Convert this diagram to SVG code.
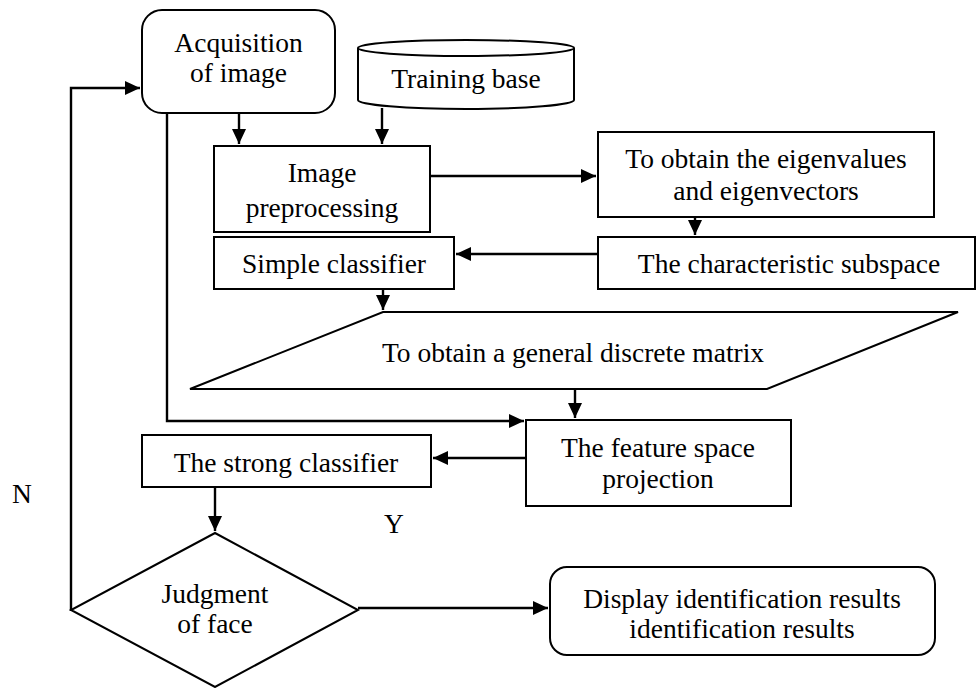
<svg xmlns="http://www.w3.org/2000/svg" width="976" height="688" viewBox="0 0 976 688" font-family="'Liberation Serif', 'Times New Roman', 'DejaVu Serif', serif">
<style>
text{font-family:"Liberation Serif","Times New Roman","DejaVu Serif",serif;font-size:27.5px;fill:#000;text-anchor:middle}
.s{fill:#fff;stroke:#000;stroke-width:2}
.c{fill:none;stroke:#000;stroke-width:2.4}
</style>
<defs>
<marker id="ah" markerUnits="userSpaceOnUse" markerWidth="17" markerHeight="16" refX="15" refY="7" orient="auto">
<path d="M0,0 L15,7 L0,14 z" fill="#000"/>
</marker>
</defs>
<rect width="976" height="688" fill="#fff"/>
<g id="connectors">
<path class="c" d="M71,611 V88 H140" marker-end="url(#ah)"/>
<path class="c" d="M239,113 V144" marker-end="url(#ah)"/>
<path class="c" d="M382,108 V144" marker-end="url(#ah)"/>
<path class="c" d="M430,176 H596" marker-end="url(#ah)"/>
<path class="c" d="M695,217 V235" marker-end="url(#ah)"/>
<path class="c" d="M598,254 H456" marker-end="url(#ah)"/>
<path class="c" d="M383,289 V310" marker-end="url(#ah)"/>
<path class="c" d="M575,389 V418" marker-end="url(#ah)"/>
<path class="c" d="M167,113 V421 H524" marker-end="url(#ah)"/>
<path class="c" d="M526,458 H433" marker-end="url(#ah)"/>
<path class="c" d="M215,487 V531" marker-end="url(#ah)"/>
<path class="c" d="M358,608 H548" marker-end="url(#ah)"/>
</g>
<g id="acquisition">
<rect class="s" x="142" y="10" width="193" height="103" rx="20"/>
<text x="238.5" y="52">Acquisition</text>
<text x="238.5" y="82">of image</text>
</g>
<g id="training">
<path class="s" d="M358,48 V100 A108,9 0 0 0 574,100 V48"/>
<ellipse class="s" cx="466" cy="48" rx="108" ry="8"/>
<text x="466" y="88">Training base</text>
</g>
<g id="preprocessing">
<rect class="s" x="214" y="146" width="216" height="86"/>
<text x="322" y="182">Image</text>
<text x="322" y="217">preprocessing</text>
</g>
<g id="eigen">
<rect class="s" x="598" y="132" width="336" height="85"/>
<text x="766" y="168">To obtain the eigenvalues</text>
<text x="766" y="200">and eigenvectors</text>
</g>
<g id="subspace">
<rect class="s" x="598" y="237" width="377" height="52"/>
<text x="789" y="273">The characteristic subspace</text>
</g>
<g id="simple">
<rect class="s" x="214" y="237" width="240" height="52"/>
<text x="334" y="273">Simple classifier</text>
</g>
<g id="matrix">
<path class="s" d="M383,312 H958 L767,389 H190 Z"/>
<text x="573" y="362">To obtain a general discrete matrix</text>
</g>
<g id="projection">
<rect class="s" x="526" y="420" width="265" height="86"/>
<text x="658" y="457">The feature space</text>
<text x="658" y="488">projection</text>
</g>
<g id="strong">
<rect class="s" x="142" y="435" width="289" height="52"/>
<text x="286" y="472">The strong classifier</text>
</g>
<g id="judgment">
<path class="s" d="M215,533 L358,610 L215,687 L71,610 Z"/>
<text x="215" y="603">Judgment</text>
<text x="215" y="633">of face</text>
</g>
<g id="display">
<rect class="s" x="550" y="567" width="385" height="88" rx="17"/>
<text x="742" y="608">Display identification results</text>
<text x="742" y="638">identification results</text>
</g>
<g id="labels">
<text x="22" y="503">N</text>
<text x="394" y="533">Y</text>
</g>
</svg>
